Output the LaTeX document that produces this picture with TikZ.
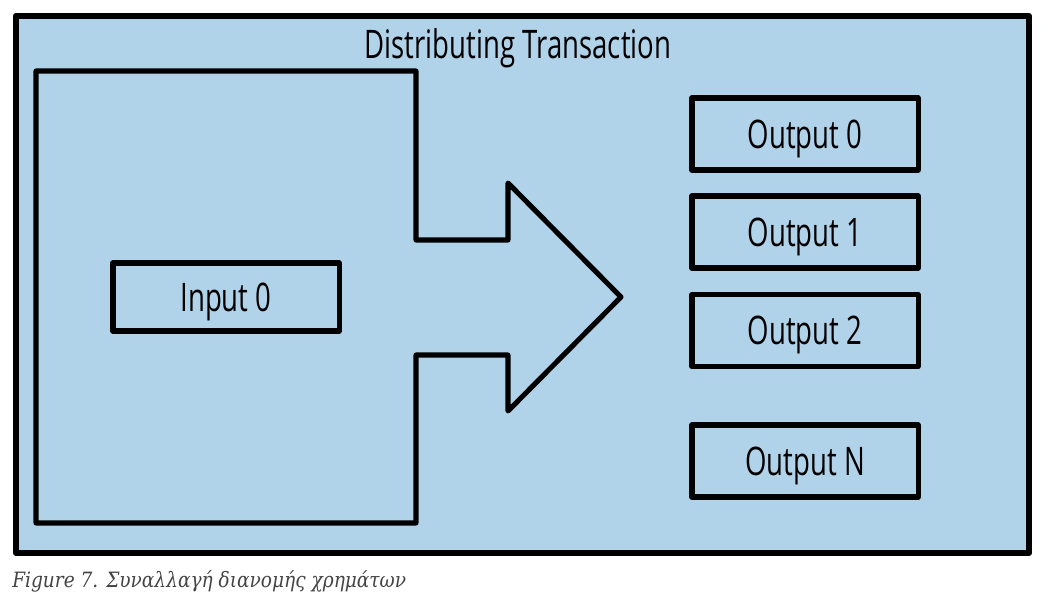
\documentclass[tikz,border=0pt]{standalone}
\usepackage{fontspec}
\newfontfamily\diagfont[FakeStretch=0.7]{Open Sans}
\newfontfamily\capfont[FakeStretch=0.88]{DejaVu Serif}
\definecolor{txblue}{RGB}{177,211,234}
\definecolor{capgray}{RGB}{68,68,68}
\tikzset{
  txfont/.style={font=\diagfont\fontsize{28}{30}\selectfont, text height=20pt, text depth=0pt},
  txbox/.style={txfont, draw=black, line width=3.6pt, minimum width=5.65cm, minimum height=1.8cm, inner sep=0pt},
}
\begin{document}
\begin{tikzpicture}[x=0.025cm, y=-0.025cm, line join=round]
 \useasboundingbox (0,0) rectangle (1048,601);
 % Khung giao dich
 \draw[fill=txblue, line width=4.4pt] (16,16) rectangle (1029,553);
 \node[txfont] (title) at (518,44) {Distributing Transaction};
 % Khoi dau vao va mui ten
 \draw[line width=3.6pt] (36,71) -- (416,71) -- (416,240) -- (508,240) -- (508,183)
   -- (621,297) -- (508,411) -- (508,355) -- (416,355) -- (416,523) -- (36,523) -- cycle;
 \node[txbox, minimum width=5.65cm, minimum height=1.7cm] (in0) at (226,297) {Input 0};
 % Cac dau ra
 \node[txbox] (out0) at (805,134) {Output 0};
 \node[txbox] (out1) at (805,232) {Output 1};
 \node[txbox] (out2) at (805,330.5) {Output 2};
 \node[txbox] (outN) at (805,461) {Output N};
 % Chu thich
 \node[anchor=base west, inner sep=0pt, text=capgray, font=\capfont\itshape\fontsize{15}{17}\selectfont] (cap) at (12,587) {Figure 7. Συναλλαγή διανομής χρημάτων};
\end{tikzpicture}
\end{document}
